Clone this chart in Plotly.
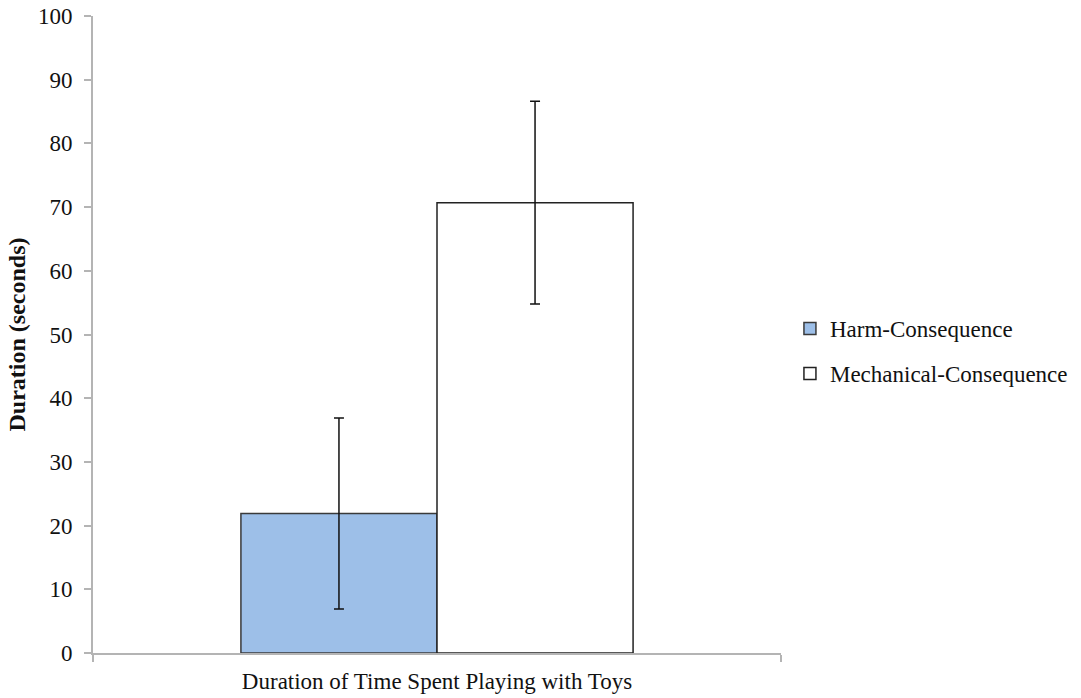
import plotly.graph_objects as go

# Mean time spent playing with toys, by condition
category = ["Duration of Time Spent Playing with Toys"]
conditions = ["Harm-Consequence", "Mechanical-Consequence"]
means = [21.9, 70.7]
errors = [15.0, 15.9]
fills = ["#9dbfe8", "#ffffff"]
outlines = ["#3a3a3a", "#222222"]

yticks = list(range(0, 101, 10))

fig = go.Figure()
for i, name in enumerate(conditions):
    fig.add_trace(go.Bar(
        x=category,
        y=[means[i]],
        name=name,
        legendgroup=name,
        marker=dict(color=fills[i], line=dict(color=outlines[i], width=1.5)),
        error_y=dict(type="data", array=[errors[i]], visible=True,
                     color="#111111", thickness=1.5, width=5),
    ))

serif = "Liberation Serif, Times New Roman, serif"
axis_grey = "#b4b4b4"
fs = 23

fig.update_layout(
    width=1081, height=698,
    margin=dict(l=93, r=300, t=16, b=45, autoexpand=False),
    paper_bgcolor="white", plot_bgcolor="white",
    barmode="group", bargap=0.43, bargroupgap=0,
    font=dict(family=serif, size=fs, color="#111111"),
    showlegend=True,
    legend=dict(
        x=1.013, y=0.474, xanchor="left", yanchor="middle",
        xref="paper", yref="paper",
        font=dict(family=serif, size=fs, color="#111111"),
        tracegroupgap=12, traceorder="grouped",
        bgcolor="rgba(0,0,0,0)",
    ),
    yaxis=dict(
        range=[0, 100], tickvals=yticks, ticktext=[str(v) for v in yticks],
        showgrid=False, zeroline=False, automargin=False,
        showline=True, linecolor=axis_grey, linewidth=2,
        ticks="outside", ticklen=7, tickcolor=axis_grey, tickwidth=2,
        ticklabelstandoff=7,
        tickfont=dict(family=serif, size=fs, color="#111111"),
        title=dict(text="<b>Duration (seconds)</b>",
                   font=dict(family=serif, size=24, color="#111111"),
                   standoff=6),
    ),
    xaxis=dict(
        showgrid=False, zeroline=False, automargin=False,
        showline=True, linecolor=axis_grey, linewidth=2,
        ticks="outside", tickson="boundaries", ticklen=7,
        tickcolor=axis_grey, tickwidth=2, ticklabelstandoff=6,
        tickfont=dict(family=serif, size=fs, color="#111111"),
    ),
)

fig.write_html("out.html")
